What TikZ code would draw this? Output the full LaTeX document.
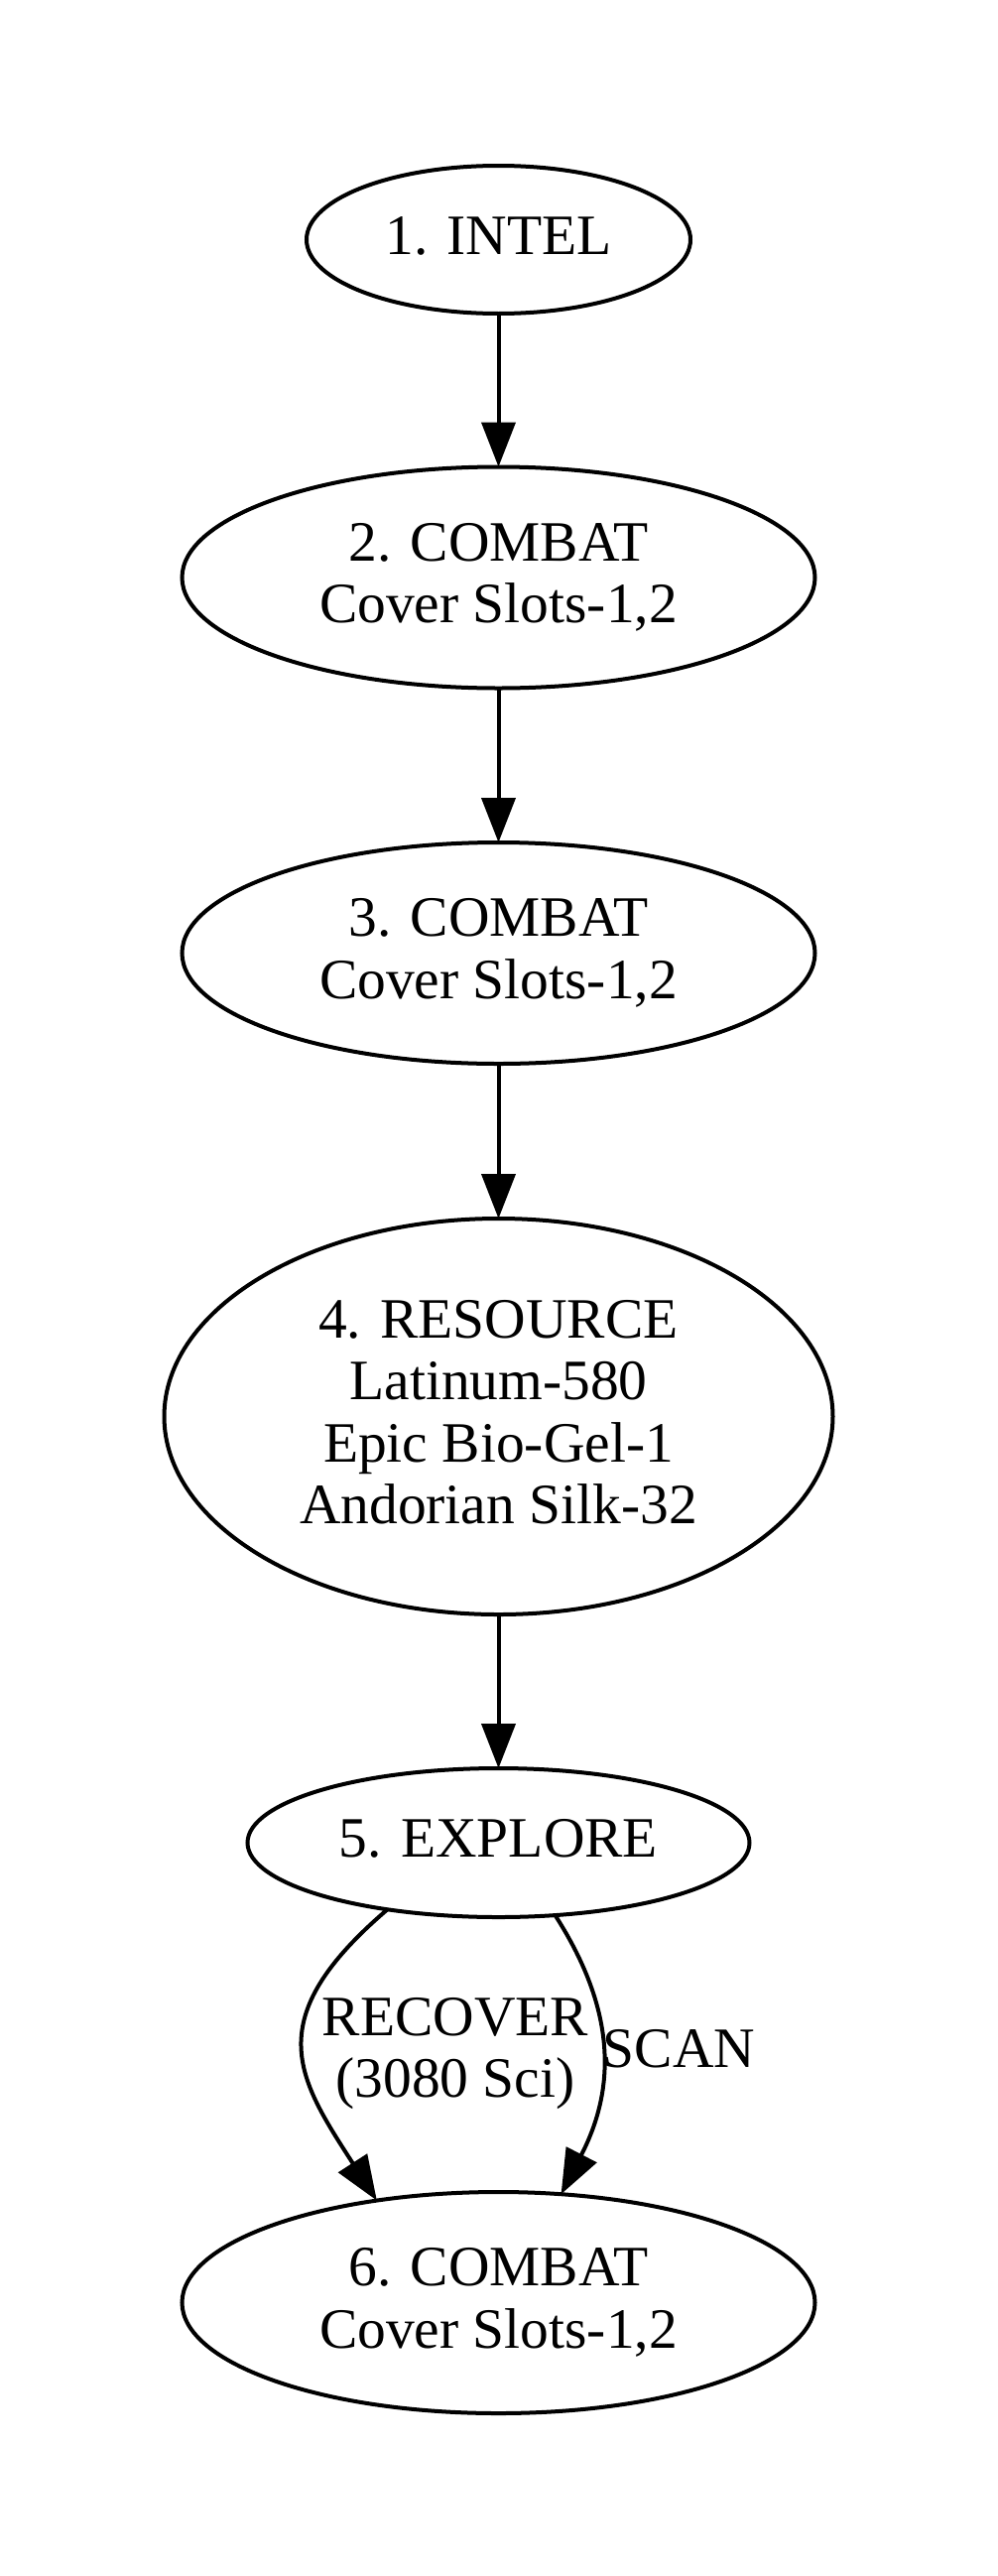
\documentclass[tikz,border=0pt]{standalone}
\usepackage{fontspec}
\setmainfont{Liberation Serif}
\usetikzlibrary{arrows.meta,shapes.geometric}
\newcommand{\mystrut}{\rule[-11pt]{0pt}{51pt}}
\begin{document}
\begin{tikzpicture}[x=1pt,y=-1pt,
  gnode/.style={draw, ellipse, line width=4pt, inner sep=0pt, outer sep=0pt,
    align=center, font=\fontsize{57.5}{62.5}\selectfont},
  elabel/.style={inner sep=0pt, outer sep=0pt, align=center,
    font=\fontsize{57.5}{62.5}\selectfont},
  edge/.style={line width=4pt, -{Triangle[length=45pt,width=34pt]}}]
\path[fill=white] (0,0) rectangle (1005,2596);
\useasboundingbox (0,0) rectangle (1005,2596);

\node[gnode, minimum width=387pt, minimum height=149pt] (n1) at (502.5,241.5)
  {\mystrut 1. INTEL};
\node[gnode, minimum width=638pt, minimum height=223pt] (n2) at (502.5,582)
  {\mystrut 2. COMBAT\\\mystrut Cover Slots-1,2};
\node[gnode, minimum width=638pt, minimum height=223pt] (n3) at (502.5,960.5)
  {\mystrut 3. COMBAT\\\mystrut Cover Slots-1,2};
\node[gnode, minimum width=674pt, minimum height=399pt] (n4) at (502.5,1427.5)
  {\mystrut 4. RESOURCE\\\mystrut Latinum-580\\\mystrut Epic Bio-Gel-1\\\mystrut Andorian Silk-32};
\node[gnode, minimum width=506pt, minimum height=150pt] (n5) at (502.5,1857)
  {\mystrut 5. EXPLORE};
\node[gnode, minimum width=638pt, minimum height=223pt] (n6) at (502.5,2320.5)
  {\mystrut 6. COMBAT\\\mystrut Cover Slots-1,2};

\draw[edge] (n1.south) -- (n2.north);
\draw[edge] (n2.south) -- (n3.north);
\draw[edge] (n3.south) -- (n4.north);
\draw[edge] (n4.south) -- (n5.north);

\draw[edge] (n5.211.9) .. controls +(-130,111) and +(-80,-124) .. (n6.140.6);
\draw[edge] (n5.-52.3) .. controls +(63.5,98.8) and +(54,-104.7) .. (n6.60.3);

\node[elabel] (lrecover) at (459,2068.75) {\mystrut RECOVER\\\mystrut(3080 Sci)};
\node[elabel] (lscan) at (684.5,2069) {\mystrut SCAN};
\end{tikzpicture}
\end{document}
